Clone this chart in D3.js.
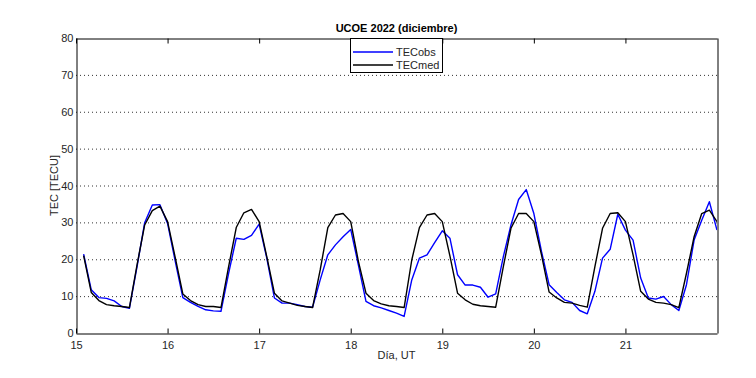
<!DOCTYPE html>
<html>
<head>
<meta charset="utf-8">
<script src="https://cdn.jsdelivr.net/npm/d3@7"></script>
<style>
  body { margin: 0; background: #fff; }
  svg text { font-family: "Liberation Sans", Arial, sans-serif; fill: #262626; }
</style>
</head>
<body>
<div id="chart"></div>
<script>
var width = 756;
var height = 378;

// valores cada 2 horas, desde el día 15 + 2h hasta el día 22 00h
var tecObs = [
  21.4, 11.7, 9.6, 9.4, 8.7, 7.2, 6.7, 18.0, 29.9, 34.7, 34.8, 29.7,
  19.5, 9.6, 8.3, 7.2, 6.3, 6.0, 5.9, 16.2, 25.7, 25.4, 26.5, 29.5,
  20.3, 9.5, 8.1, 8.1, 7.7, 7.2, 7.0, 14.4, 21.2, 23.9, 26.1, 28.1,
  18.5, 8.6, 7.4, 6.8, 6.1, 5.4, 4.5, 14.4, 20.3, 21.2, 24.5, 27.7,
  25.7, 15.8, 13.0, 13.0, 12.4, 9.7, 10.6, 20.7, 29.3, 36.2, 38.9, 32.4,
  22.1, 13.1, 11.0, 9.0, 8.3, 6.1, 5.2, 11.3, 20.3, 22.7, 32.2, 27.9,
  25.2, 14.9, 9.5, 9.2, 9.9, 7.7, 6.1, 13.1, 25.2, 30.6, 35.6, 27.9
];
var tecMed = [
  21.0, 11.0, 8.8, 7.7, 7.4, 7.2, 6.9, 18.5, 29.3, 33.2, 34.4, 30.2,
  20.5, 10.6, 8.8, 7.7, 7.2, 7.2, 6.9, 18.0, 28.6, 32.6, 33.5, 30.2,
  20.7, 10.8, 8.7, 8.1, 7.5, 7.2, 6.9, 17.1, 28.6, 32.0, 32.4, 30.2,
  19.5, 10.8, 8.8, 7.9, 7.4, 7.2, 6.9, 19.8, 28.6, 32.0, 32.4, 30.2,
  20.9, 10.8, 9.0, 7.8, 7.4, 7.2, 7.0, 18.0, 28.4, 32.4, 32.4, 30.2,
  21.2, 11.1, 9.5, 8.3, 8.1, 7.5, 7.0, 18.0, 28.4, 32.4, 32.6, 30.2,
  21.2, 11.3, 9.2, 8.3, 8.1, 7.7, 6.9, 16.2, 26.1, 32.4, 33.3, 30.2
];
var dias = tecObs.map((d, i) => 15 + (i + 1) / 12);
var xTicks = [15, 16, 17, 18, 19, 20, 21];
var yTicks = [0, 10, 20, 30, 40, 50, 60, 70, 80];
var gridTicks = [10, 20, 30, 40, 50, 60, 70];
var series = [
  { name: 'TECobs', values: tecObs, color: '#0000ff' },
  { name: 'TECmed', values: tecMed, color: '#000000' }
];

// ojo: "top" es de window, usar otros nombres
var mLeft = 76, mRight = 717, mTop = 38, mBottom = 333;

var x = d3.scaleLinear().domain([15, 22]).range([mLeft, mRight]);
var y = d3.scaleLinear().domain([0, 80]).range([mBottom, mTop]);

var svg = d3.select('#chart')
    .append('svg')
    .attr('width', width)
    .attr('height', height);

// rejilla punteada
svg.append('g')
    .selectAll('line')
    .data(gridTicks)
    .enter()
    .append('line')
    .attr('x1', mLeft)
    .attr('x2', mRight)
    .attr('y1', d => y(d) + 0.5)
    .attr('y2', d => y(d) + 0.5)
    .attr('stroke', '#333')
    .attr('stroke-width', 1)
    .attr('stroke-dasharray', '1,3');

svg.append('defs').append('clipPath').attr('id', 'clip')
    .append('rect')
    .attr('x', mLeft).attr('y', mTop)
    .attr('width', mRight - mLeft).attr('height', mBottom - mTop);

var line = d3.line()
    .x((d, i) => x(dias[i]))
    .y(d => y(d));

svg.append('g')
    .attr('clip-path', 'url(#clip)')
    .selectAll('path')
    .data(series)
    .enter()
    .append('path')
    .attr('d', d => line(d.values))
    .attr('fill', 'none')
    .attr('stroke', d => d.color)
    .attr('stroke-width', 1.4)
    .attr('stroke-linejoin', 'round');

// ejes (ticks hacia dentro, como matlab)
var xAxisB = d3.axisBottom(x).tickValues(xTicks).tickSizeInner(-5).tickSizeOuter(0).tickPadding(8).tickFormat(d3.format('d'));
var xAxisT = d3.axisTop(x).tickValues(xTicks).tickSizeInner(-5).tickSizeOuter(0).tickFormat('');
var yAxisL = d3.axisLeft(y).tickValues(yTicks).tickSize(0).tickPadding(3);
var yAxisR = d3.axisRight(y).tickValues(yTicks).tickSize(0).tickFormat('');

svg.append('g').attr('transform', 'translate(0,' + (mBottom + 0.5) + ')').call(xAxisB);
svg.append('g').attr('transform', 'translate(0,' + (mTop + 0.5) + ')').call(xAxisT);
svg.append('g').attr('transform', 'translate(' + (mLeft + 0.5) + ',0)').call(yAxisL);
svg.append('g').attr('transform', 'translate(' + (mRight + 0.5) + ',0)').call(yAxisR);

svg.selectAll('.domain').attr('stroke', '#000').attr('stroke-width', 1);
svg.selectAll('.tick line').attr('stroke', '#000');
svg.selectAll('.tick text').attr('font-size', 11).style('fill', '#262626');

// titulo y etiquetas
svg.append('text')
    .attr('x', (mLeft + mRight) / 2)
    .attr('y', 32)
    .attr('text-anchor', 'middle')
    .attr('font-size', 11)
    .attr('font-weight', 'bold')
    .style('fill', '#000')
    .text('UCOE 2022 (diciembre)');

svg.append('text')
    .attr('x', (mLeft + mRight) / 2)
    .attr('y', 359)
    .attr('text-anchor', 'middle')
    .attr('font-size', 11)
    .text('Día, UT');

svg.append('text')
    .attr('transform', 'translate(58,' + ((mTop + mBottom) / 2) + ') rotate(-90)')
    .attr('text-anchor', 'middle')
    .attr('font-size', 11)
    .text('TEC [TECU]');

// leyenda
var legend = svg.append('g');
legend.append('rect')
    .attr('x', 350.5).attr('y', 38.5)
    .attr('width', 92).attr('height', 34)
    .attr('fill', '#fff')
    .attr('stroke', '#000');

var item = legend.selectAll('.item')
    .data(series)
    .enter()
    .append('g')
    .attr('transform', (d, i) => 'translate(0,' + (52 + i * 13) + ')');

item.append('line')
    .attr('x1', 353).attr('x2', 393)
    .attr('stroke', d => d.color)
    .attr('stroke-width', 1.4);

item.append('text')
    .attr('x', 396)
    .attr('y', 4)
    .attr('font-size', 11)
    .text(d => d.name);
</script>
</body>
</html>
